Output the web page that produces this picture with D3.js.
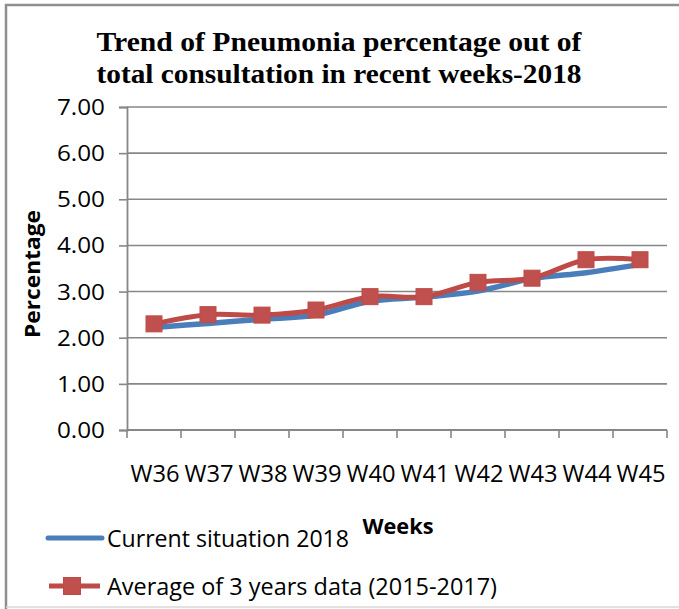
<!DOCTYPE html>
<html>
<head>
<meta charset="utf-8">
<script src="https://cdn.jsdelivr.net/npm/d3@7"></script>
<style>
html,body{margin:0;padding:0;background:#fff;}
svg{display:block;}
</style>
</head>
<body>
<svg id="chart" width="679" height="609"></svg>
<script>
const weeks = ["W36","W37","W38","W39","W40","W41","W42","W43","W44","W45"];
const current2018 = [2.22,2.31,2.40,2.49,2.79,2.88,3.01,3.28,3.41,3.59];
const average3yr = [2.30,2.50,2.49,2.60,2.89,2.89,3.20,3.29,3.69,3.69];
const yTicks = [0,1,2,3,4,5,6,7];
const titleLines = ["Trend of Pneumonia percentage out of","total consultation in recent weeks-2018"];
const seriesNames = ["Current situation 2018","Average of 3 years data (2015-2017)"];

const svg = d3.select("#chart");
const sans = "'Open Sans', 'Liberation Sans', sans-serif";
const gridColor = "#878787";
const blue = "#4a7ebb", red = "#be4b48", redFill = "#c0504d";

// frame
svg.append("path").attr("d","M6,609 V5 H679").attr("fill","none").attr("stroke","#8f8f8f").attr("stroke-width",2.5);
svg.append("line").attr("x1",6).attr("x2",679).attr("y1",607).attr("y2",607).attr("stroke","#d9d9d9").attr("stroke-width",1.5);

const x = d3.scaleBand().domain(weeks).range([127,667]);
const y = d3.scaleLinear().domain([0,7]).range([430,107]);

// gridlines
svg.append("g").selectAll("line").data(yTicks.filter(d=>d>0)).join("line")
  .attr("x1",127).attr("x2",667).attr("y1",d=>y(d)).attr("y2",d=>y(d))
  .attr("stroke",gridColor).attr("stroke-width",1.6);

// y axis
const yAxis = svg.append("g").attr("transform","translate(127,0)")
  .call(d3.axisLeft(y).tickValues(yTicks).tickFormat(d3.format(".2f")).tickSize(8).tickPadding(14));
yAxis.select(".domain").attr("stroke",gridColor).attr("stroke-width",1.8);
yAxis.selectAll(".tick line").attr("stroke",gridColor).attr("stroke-width",1.6);
yAxis.selectAll(".tick text").attr("font-family",sans).attr("font-size",21).attr("fill","#000")
  .attr("dy","0.36em").attr("textLength",48).attr("lengthAdjust","spacingAndGlyphs");

// x axis
const xAxis = svg.append("g").attr("transform","translate(0,430)");
xAxis.append("line").attr("x1",127).attr("x2",667).attr("y1",0).attr("y2",0).attr("stroke",gridColor).attr("stroke-width",1.8);
const bounds = weeks.map(w=>x(w)).concat([x.range()[1]]);
xAxis.selectAll("line.tk").data(bounds).join("line").attr("class","tk")
  .attr("x1",d=>d).attr("x2",d=>d).attr("y1",0).attr("y2",8).attr("stroke",gridColor).attr("stroke-width",1.6);
xAxis.selectAll("text").data(weeks).join("text")
  .attr("x",d=>x(d)+x.bandwidth()/2+1).attr("y",52).attr("text-anchor","middle")
  .attr("font-family",sans).attr("font-size",24).attr("fill","#000")
  .attr("textLength",49).attr("lengthAdjust","spacingAndGlyphs").text(d=>d);

// lines
const line = d3.line().x((d,i)=>x(weeks[i])+x.bandwidth()/2).y(d=>y(d)).curve(d3.curveCatmullRom.alpha(0.5));
svg.append("path").datum(current2018).attr("d",line).attr("fill","none").attr("stroke",blue).attr("stroke-width",5.5).attr("stroke-linecap","round");
svg.append("path").datum(average3yr).attr("d",line).attr("fill","none").attr("stroke",red).attr("stroke-width",5).attr("stroke-linecap","round");
const ms = 16;
svg.append("g").selectAll("rect").data(average3yr).join("rect")
  .attr("x",(d,i)=>x(weeks[i])+x.bandwidth()/2-ms/2).attr("y",d=>y(d)-ms/2)
  .attr("width",ms).attr("height",ms).attr("fill",redFill).attr("stroke",red).attr("stroke-width",1);

// title
svg.append("g").selectAll("text").data(titleLines).join("text")
  .attr("x",339).attr("y",(d,i)=>51+i*32).attr("text-anchor","middle")
  .attr("font-family","'Liberation Serif','Times New Roman',serif").attr("font-weight","bold").attr("font-size",28)
  .attr("textLength",485).attr("lengthAdjust","spacingAndGlyphs").text(d=>d);

// axis titles
svg.append("text").attr("x",398).attr("y",534).attr("text-anchor","middle")
  .attr("font-family",sans).attr("font-weight","bold").attr("font-size",21)
  .attr("textLength",71).attr("lengthAdjust","spacingAndGlyphs").text("Weeks");
svg.append("text").attr("transform","translate(40,274) rotate(-90)").attr("text-anchor","middle")
  .attr("font-family",sans).attr("font-weight","bold").attr("font-size",21)
  .attr("textLength",128).attr("lengthAdjust","spacingAndGlyphs").text("Percentage");

// legend
const lg = svg.append("g");
lg.append("line").attr("x1",48).attr("x2",102).attr("y1",538).attr("y2",538).attr("stroke",blue).attr("stroke-width",5).attr("stroke-linecap","round");
lg.append("text").attr("x",107).attr("y",547).attr("font-family",sans).attr("font-size",24)
  .attr("textLength",242).attr("lengthAdjust","spacingAndGlyphs").text(seriesNames[0]);
lg.append("line").attr("x1",49).attr("x2",100).attr("y1",586).attr("y2",586).attr("stroke",red).attr("stroke-width",5);
lg.append("rect").attr("x",72-8.5).attr("y",586-8.5).attr("width",17).attr("height",17).attr("fill",redFill).attr("stroke",red);
lg.append("text").attr("x",107).attr("y",595).attr("font-family",sans).attr("font-size",24)
  .attr("textLength",390).attr("lengthAdjust","spacingAndGlyphs").text(seriesNames[1]);
</script>
</body>
</html>
